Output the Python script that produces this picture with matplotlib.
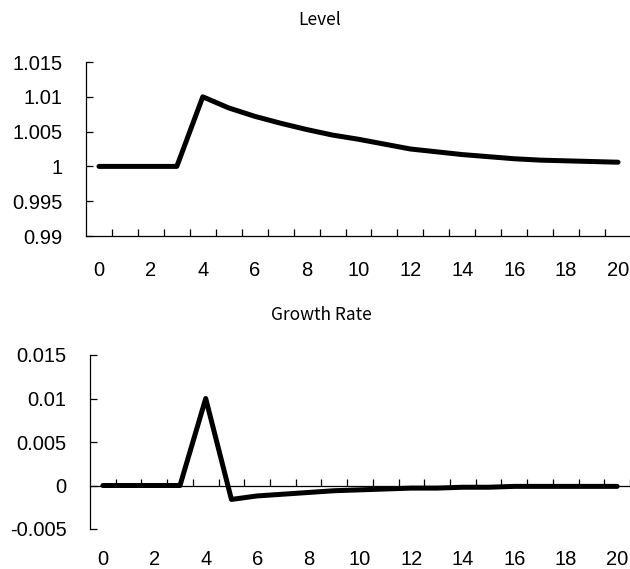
import numpy as np
import matplotlib.pyplot as plt
from matplotlib.ticker import FixedLocator, NullFormatter

periods = list(range(21))
level = [1.0, 1.0, 1.0, 1.0, 1.0100, 1.0084, 1.0072, 1.0062, 1.0053, 1.0045,
         1.0039, 1.0032, 1.0025, 1.0021, 1.0017, 1.0014, 1.0011, 1.0009,
         1.0008, 1.0007, 1.0006]
growth = [0.0, 0.0, 0.0, 0.0, 0.0100, -0.0016, -0.0012, -0.0010, -0.0008,
          -0.0006, -0.0005, -0.0004, -0.0003, -0.0003, -0.0002, -0.0002,
          -0.0001, -0.0001, -0.0001, -0.0001, -0.0001]
xlabels = [str(v) for v in range(0, 21, 2)]

plt.rcParams['font.family'] = ['Liberation Sans', 'DejaVu Sans']
title_font = ['Noto Sans CJK JP', 'DejaVu Sans']

fig = plt.figure(figsize=(6.30, 5.69), dpi=100)
ax1 = fig.add_axes([86 / 630, 1 - 236 / 569, 545 / 630, 174 / 569])
ax2 = fig.add_axes([90 / 630, 1 - 529 / 569, 540 / 630, 174 / 569])

boundaries = np.arange(-0.5, 21, 1.0)


def style_axes(ax, ylim, yticks, ylabels):
    ax.set_xlim(-0.5, 20.5)
    ax.set_ylim(*ylim)
    ax.set_yticks(yticks)
    ax.set_yticklabels(ylabels)
    for s in ['top', 'right']:
        ax.spines[s].set_visible(False)
    for s in ['left', 'bottom']:
        ax.spines[s].set_linewidth(0.9)
    ax.tick_params(axis='y', direction='in', length=5, width=0.9, labelsize=14.5, pad=17)


# Level
ax1.plot(periods, level, color='black', lw=3.6, solid_capstyle='round', solid_joinstyle='round')
style_axes(ax1, (0.99, 1.015), [0.99, 0.995, 1.0, 1.005, 1.01, 1.015],
           ['0.99', '0.995', '1', '1.005', '1.01', '1.015'])
ax1.xaxis.set_major_locator(FixedLocator(boundaries[1:]))
ax1.xaxis.set_major_formatter(NullFormatter())
ax1.xaxis.set_minor_locator(FixedLocator(range(0, 21, 2)))
ax1.set_xticklabels(xlabels, minor=True)
ax1.tick_params(axis='x', which='major', direction='in', length=5, width=0.9)
ax1.tick_params(axis='x', which='minor', length=0, labelsize=14.5, pad=18)
fig.text(320 / 630, 1 - 20 / 569, 'Level', family=title_font, fontsize=12.5,
         ha='center', va='center')

# Growth Rate
ax2.plot(periods, growth, color='black', lw=3.6, solid_capstyle='round', solid_joinstyle='round')
style_axes(ax2, (-0.005, 0.015), [-0.005, 0.0, 0.005, 0.01, 0.015],
           ['-0.005', '0', '0.005', '0.01', '0.015'])
ax2.spines['bottom'].set_position(('data', 0))
ax2.set_xticks(boundaries[1:])
ax2.set_xticklabels([])
ax2.tick_params(axis='x', direction='in', length=5, width=0.9)
sec = ax2.secondary_xaxis(0)
sec.set_xticks(range(0, 21, 2))
sec.set_xticklabels(xlabels)
sec.tick_params(length=0, labelsize=14.5, pad=15)
sec.spines['bottom'].set_visible(False)
fig.text(321 / 630, 1 - 315 / 569, 'Growth Rate', family=title_font, fontsize=12.5,
         ha='center', va='center')

fig.savefig('out.png', dpi=100)
